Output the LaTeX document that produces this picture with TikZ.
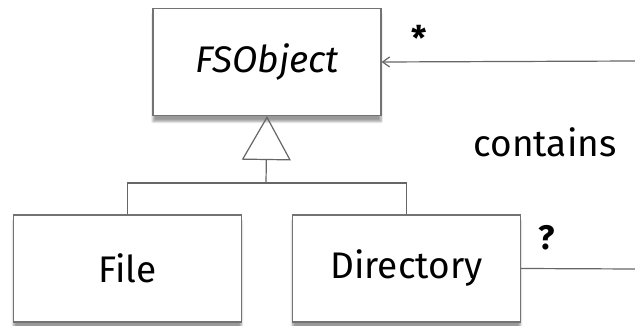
\documentclass[tikz,border=0pt]{standalone}
\usepackage{fontspec}
\setmainfont{Fira Sans}
\usetikzlibrary{arrows.meta}
\usetikzlibrary{shadows.blur}

\tikzset{
  classbox/.style={draw=black!55, line width=1.2pt, fill=white, minimum width=228pt,
    minimum height=107pt, inner sep=0pt, font=\fontsize{37}{44}\selectfont,
    blur shadow={shadow xshift=0pt, shadow yshift=-6pt, shadow blur steps=8, shadow opacity=40}},
  link/.style={draw=black!60, line width=1.2pt},
  mult/.style={font=\fontsize{34}{40}\selectfont\bfseries, inner sep=0pt}
}

\begin{document}
\begin{tikzpicture}[x=1pt,y=-1pt]
\useasboundingbox (0,0) rectangle (635,326);
\node[classbox] (fsobject) at (267,62) {\itshape FSObject};
\node[classbox] (file) at (127.5,268.5) {File};
\node[classbox] (directory) at (406.5,268.5) {Directory};
\coordinate (join) at (266,183);
\coordinate (outtop) at (636,61);
\coordinate (outbot) at (636,269);
% generalization
\draw[link] (file.north) |- (join) -| (directory.north);
\draw[link,-{Triangle[open,length=44pt,width=49pt,line width=1.2pt]}] (join) -- (fsobject.south);
% association
\draw[link,-{Straight Barb[length=7pt,width=10pt]}] (outtop) -- (fsobject.east);
\draw[link] (directory.east) -- (outbot);
\node[mult] (star) at (419,38) {*};
\node[mult] (opt) at (547,238) {?};
\node[font=\fontsize{37}{44}\selectfont, inner sep=0pt] (contains) at (545,142) {contains};
\end{tikzpicture}
\end{document}
